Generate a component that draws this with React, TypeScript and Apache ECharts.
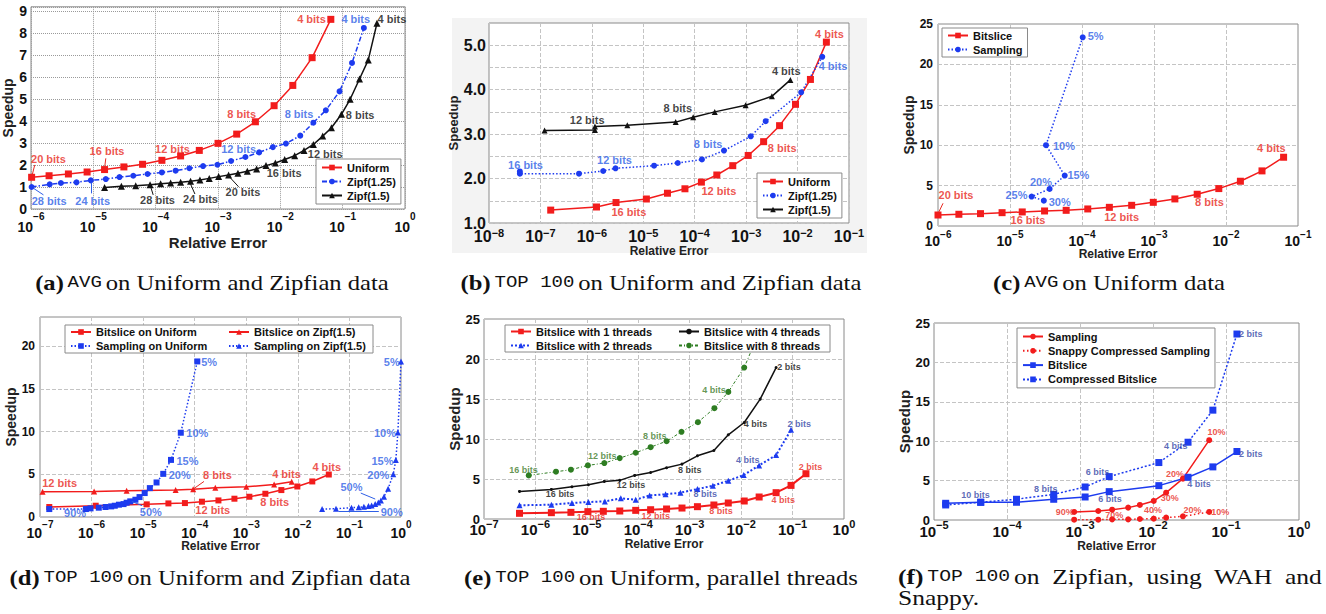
import React, { useEffect, useRef } from "react";
import * as echarts from "echarts";

const SANS = '"Liberation Sans", Arial, Helvetica, sans-serif';
const SERIF = '"Liberation Serif", "Times New Roman", serif';
const MONO = '"Liberation Mono", "DejaVu Sans Mono", monospace';

const RED = "#f21c1c";
const BLUE = "#1d3bef";
const BLACK = "#111111";
const GREEN = "#2e7d22";
const T_RED = "#e82a22";
const T_BLUE = "#2f5fe6";
const T_NAVY = "#3446a6";
const T_GREEN = "#3d7b2a";
const T_BLACK = "#111111";

// ---------- (a) AVG on Uniform and Zipfian data (x: log10 of relative error) ----------
const aUniformLogErr = [-5.99, -5.71, -5.4, -5.1, -4.82, -4.51, -4.21, -3.9, -3.6, -3.3, -3.0, -2.7, -2.4, -2.1, -1.8, -1.49, -1.19];
const aUniformSpeedup = [1.44, 1.51, 1.59, 1.68, 1.79, 1.91, 2.03, 2.21, 2.41, 2.66, 2.98, 3.4, 3.96, 4.69, 5.61, 6.87, 8.61];
const aZipf125LogErr = [-5.99, -5.7, -5.52, -5.27, -5.04, -4.8, -4.58, -4.36, -4.13, -3.9, -3.68, -3.46, -3.24, -3.01, -2.79, -2.56, -2.34, -2.12, -1.91, -1.68, -1.47, -1.27, -1.05, -0.85, -0.66];
const aZipf125Speedup = [1.0, 1.12, 1.18, 1.21, 1.3, 1.36, 1.45, 1.51, 1.59, 1.66, 1.74, 1.85, 1.95, 2.01, 2.18, 2.36, 2.57, 2.81, 2.97, 3.33, 3.92, 4.48, 5.34, 6.63, 8.22];
const aZipf15LogErr = [-4.82, -4.55, -4.32, -4.09, -3.92, -3.76, -3.6, -3.44, -3.29, -3.14, -2.99, -2.83, -2.68, -2.53, -2.38, -2.23, -2.08, -1.93, -1.77, -1.62, -1.47, -1.32, -1.18, -1.02, -0.88, -0.73, -0.59, -0.45];
const aZipf15Speedup = [0.98, 1.03, 1.06, 1.1, 1.15, 1.18, 1.21, 1.26, 1.32, 1.39, 1.47, 1.54, 1.62, 1.71, 1.82, 1.97, 2.09, 2.25, 2.42, 2.66, 2.93, 3.31, 3.69, 4.3, 4.98, 5.9, 6.76, 8.43];
const aUniformNotes: [number, number, string][] = [[-5.72, 2.25, "20 bits"], [-4.78, 2.65, "16 bits"], [-3.73, 2.72, "12 bits"], [-2.62, 4.3, "8 bits"], [-1.5, 8.62, "4 bits"]];
const aUniformArrows = [[-5.94, 2.0, -5.98, 1.55], [-4.8, 2.3, -4.82, 1.85]];
const aZipf125Notes: [number, number, string][] = [[-5.71, 0.38, "28 bits"], [-5.01, 0.38, "24 bits"], [-2.67, 2.74, "12 bits"], [-1.7, 4.3, "8 bits"], [-0.79, 8.62, "4 bits"]];
const aZipf125Arrows = [[-5.8, 0.64, -5.96, 0.94], [-5.04, 0.71, -5.04, 1.2]];
const aZipf15Notes: [number, number, string][] = [[-3.97, 0.39, "28 bits"], [-3.28, 0.44, "24 bits"], [-2.6, 0.76, "20 bits"], [-1.94, 1.65, "16 bits"], [-1.28, 2.5, "12 bits"], [-0.72, 4.27, "8 bits"], [-0.21, 8.62, "4 bits"]];
const aZipf15Arrows = [[-4.04, 0.64, -4.08, 1.01], [-3.37, 0.68, -3.44, 1.13], [-2.67, 1.01, -2.82, 1.47]];

// ---------- (b) TOP 100 on Uniform and Zipfian data ----------
const bUniformLogErr = [-6.8, -5.91, -5.53, -4.94, -4.53, -4.19, -3.87, -3.57, -3.26, -2.96, -2.66, -2.35, -2.04, -1.75, -1.44];
const bUniformSpeedup = [1.29, 1.36, 1.46, 1.54, 1.67, 1.77, 1.92, 2.08, 2.29, 2.52, 2.83, 3.19, 3.67, 4.23, 5.07];
const bZipf125LogErr = [-7.4, -7.4, -6.25, -5.78, -5.54, -4.79, -4.33, -3.86, -3.43, -2.91, -2.62, -1.93, -1.52];
const bZipf125Speedup = [2.16, 2.11, 2.11, 2.17, 2.23, 2.29, 2.35, 2.43, 2.63, 2.95, 3.29, 3.94, 4.74];
const bZipf15LogErr = [-6.92, -5.94, -5.94, -5.31, -4.37, -4.03, -3.61, -3.01, -2.5, -2.14];
const bZipf15Speedup = [3.08, 3.09, 3.17, 3.2, 3.27, 3.38, 3.5, 3.65, 3.85, 4.22];
const bUniformNotes: [number, number, string][] = [[-5.28, 1.24, "16 bits"], [-3.53, 1.72, "12 bits"], [-2.3, 2.68, "8 bits"], [-1.38, 5.26, "4 bits"]];
const bZipf125Notes: [number, number, string][] = [[-7.29, 2.31, "16 bits"], [-5.56, 2.41, "12 bits"], [-3.74, 2.77, "8 bits"], [-1.31, 4.54, "4 bits"]];
const bZipf15Notes: [number, number, string][] = [[-6.09, 3.32, "12 bits"], [-4.33, 3.58, "8 bits"], [-2.22, 4.43, "4 bits"]];

// ---------- (c) AVG on Uniform data ----------
const cBitsliceLogErr = [-6.0, -5.71, -5.41, -5.11, -4.83, -4.52, -4.22, -3.92, -3.62, -3.31, -3.01, -2.71, -2.4, -2.1, -1.8, -1.5, -1.2];
const cBitsliceSpeedup = [1.36, 1.45, 1.53, 1.65, 1.74, 1.86, 1.94, 2.11, 2.31, 2.56, 2.93, 3.35, 3.93, 4.63, 5.54, 6.82, 8.51];
const cSamplingLogErr = [-3.99, -4.5, -4.24, -4.45, -4.7, -4.53];
const cSamplingSpeedup = [23.35, 10.0, 6.24, 4.59, 3.64, 3.14];
const cBitsliceNotes: [number, number, string][] = [[-5.75, 3.84, "20 bits"], [-4.75, 0.74, "16 bits"], [-3.45, 1.16, "12 bits"], [-2.23, 2.93, "8 bits"], [-1.37, 9.71, "4 bits"]];
const cBitsliceArrows = [[-5.93, 2.81, -5.99, 1.7]];
const cSamplingNotes: [number, number, string][] = [[-3.81, 23.47, "5%"], [-4.25, 9.96, "10%"], [-4.05, 6.32, "15%"], [-4.57, 5.41, "20%"], [-4.91, 3.84, "25%"], [-4.31, 2.98, "30%"]];

// ---------- (d) TOP 100 on Uniform and Zipfian data ----------
const dBitUniLogErr = [-6.82, -5.92, -4.93, -4.51, -4.19, -3.86, -3.54, -3.23, -2.94, -2.63, -2.32, -2.01, -1.72, -1.4];
const dBitUniSpeedup = [1.17, 1.32, 1.48, 1.59, 1.63, 1.79, 1.94, 2.14, 2.37, 2.72, 3.15, 3.57, 4.16, 4.97];
const dBitZipfLogErr = [-6.95, -5.95, -5.32, -4.37, -4.03, -3.6, -3.0, -2.46, -2.12];
const dBitZipfSpeedup = [2.95, 2.99, 3.07, 3.15, 3.26, 3.42, 3.53, 3.81, 4.12];
const dSampUniLogErr = [-6.82, -6.11, -6.02, -5.86, -5.73, -5.62, -5.55, -5.47, -5.38, -5.32, -5.25, -5.15, -5.07, -4.97, -4.87, -4.74, -4.61, -4.46, -4.27, -3.95];
const dSampUniSpeedup = [0.93, 0.93, 1.01, 1.09, 1.17, 1.24, 1.32, 1.44, 1.51, 1.67, 1.83, 2.02, 2.33, 2.8, 3.38, 4.04, 5.05, 6.68, 9.86, 18.2];
const dSampZipfLogErr = [-1.53, -1.26, -0.96, -0.82, -0.72, -0.63, -0.57, -0.5, -0.44, -0.39, -0.33, -0.25, -0.15, -0.1, -0.06, 0.0];
const dSampZipfSpeedup = [0.93, 0.97, 1.09, 1.13, 1.2, 1.28, 1.36, 1.51, 1.71, 1.94, 2.37, 3.3, 5.01, 6.68, 9.9, 18.2];
const dBitZipfNotes: [number, number, string][] = [[-6.62, 3.96, "12 bits"], [-3.56, 4.97, "8 bits"], [-2.22, 5.01, "4 bits"]];
const dBitZipfArrows = [[-3.82, 4.16, -4.01, 3.35]];
const dBitUniNotes: [number, number, string][] = [[-3.65, 0.85, "12 bits"], [-2.45, 1.75, "8 bits"], [-1.44, 5.9, "4 bits"]];
const dSampUniNotes: [number, number, string][] = [[-6.32, 0.43, "90%"], [-4.85, 0.62, "50%"], [-4.29, 4.97, "20%"], [-4.14, 6.6, "15%"], [-3.95, 9.79, "10%"], [-3.72, 18.14, "5%"]];
const dSampUniArrows = [[-5.02, 1.32, -5.22, 1.83]];
const dSampZipfNotes: [number, number, string][] = [[-0.96, 3.5, "50%"], [-0.18, 0.62, "90%"], [-0.44, 4.97, "20%"], [-0.36, 6.6, "15%"], [-0.31, 9.79, "10%"], [-0.18, 18.14, "5%"]];
const dSampZipfArrows = [[-0.78, 2.8, -0.5, 2.1], [-0.43, 0.62, -1.21, 0.66]];

// ---------- (e) TOP 100 on Uniform, parallel threads ----------
const eT1LogErr = [-6.31, -5.69, -5.31, -4.98, -4.68, -4.36, -4.05, -3.76, -3.45, -3.15, -2.85, -2.53, -2.25, -1.94, -1.65, -1.32, -1.03, -0.74];
const eT1Speedup = [0.71, 0.79, 0.83, 0.92, 0.96, 1.0, 1.08, 1.16, 1.25, 1.37, 1.54, 1.75, 2.0, 2.25, 2.75, 3.29, 4.2, 5.66];
const eT2LogErr = [-6.31, -5.69, -5.29, -4.97, -4.65, -4.34, -4.05, -3.78, -3.47, -3.18, -2.85, -2.55, -2.25, -1.95, -1.65, -1.32, -1.03];
const eT2Speedup = [1.71, 1.79, 2.0, 2.12, 2.2, 2.58, 2.41, 2.95, 3.08, 3.29, 3.74, 4.16, 4.78, 5.49, 6.7, 7.99, 11.15];
const eT4LogErr = [-6.31, -5.69, -5.29, -4.97, -4.66, -4.36, -4.07, -3.76, -3.45, -3.15, -2.85, -2.53, -2.25, -1.94, -1.63, -1.32];
const eT4Speedup = [3.45, 3.7, 4.03, 4.28, 4.7, 4.83, 5.45, 5.82, 6.41, 6.86, 7.9, 8.57, 10.52, 12.06, 14.98, 18.93];
const eT8LogErr = [-6.13, -5.6, -5.31, -4.98, -4.66, -4.36, -4.05, -3.76, -3.45, -3.16, -2.84, -2.52, -2.25, -1.94, -1.63];
const eT8Speedup = [5.45, 5.91, 6.16, 6.7, 6.99, 7.61, 8.28, 8.98, 9.73, 10.9, 12.1, 13.85, 15.89, 18.93, 23.7];
const eT8Notes: [number, number, string][] = [[-6.23, 6.07, "16 bits"], [-4.7, 7.82, "12 bits"], [-3.68, 10.4, "8 bits"], [-2.53, 16.14, "4 bits"]];
const eT4Notes: [number, number, string][] = [[-5.52, 3.12, "16 bits"], [-4.14, 4.2, "12 bits"], [-3.0, 6.07, "8 bits"], [-1.72, 11.86, "4 bits"], [-1.07, 18.97, "2 bits"]];
const eT2Notes: [number, number, string][] = [[-2.7, 3.08, "8 bits"], [-1.87, 7.32, "4 bits"], [-0.87, 11.86, "2 bits"]];
const eT1Notes: [number, number, string][] = [[-4.92, 0.21, "16 bits"], [-3.66, 0.33, "12 bits"], [-2.39, 0.96, "8 bits"], [-1.18, 2.37, "4 bits"], [-0.65, 6.49, "2 bits"]];

// ---------- (f) TOP 100 on Zipfian, using WAH and Snappy ----------
const fSamplingLogErr = [-3.08, -2.75, -2.56, -2.34, -2.18, -1.99, -1.82, -1.59, -1.23];
const fSamplingSpeedup = [1.02, 1.14, 1.31, 1.57, 1.91, 2.42, 3.47, 5.25, 10.13];
const fSnappySpeedup = [0.04, 0.04, 0.08, 0.08, 0.13, 0.17, 0.3, 0.47, 1.02];
const fBitsliceLogErr = [-4.84, -4.36, -3.87, -3.36, -2.93, -2.6, -1.92, -1.52, -1.18, -0.85];
const fBitsliceSpeedup = [2.12, 2.25, 2.25, 2.63, 2.92, 3.6, 4.36, 5.42, 6.74, 8.69];
const fCompressedSpeedup = [1.91, 2.25, 2.63, 3.26, 4.19, 5.51, 7.29, 9.87, 13.94, 23.6];
const fCompNotes: [number, number, string][] = [[-4.43, 3.18, "10 bits"], [-3.47, 3.94, "8 bits"], [-2.76, 6.06, "6 bits"], [-1.69, 9.41, "4 bits"], [-0.66, 23.64, "2 bits"]];
const fBitNotes: [number, number, string][] = [[-2.59, 2.71, "6 bits"], [-1.37, 4.58, "4 bits"], [-0.66, 8.39, "2 bits"]];
const fSampNotes: [number, number, string][] = [[-3.21, 1.02, "90%"], [-2.53, 0.68, "70%"], [-2.0, 1.23, "40%"], [-1.77, 2.75, "30%"], [-1.7, 5.81, "20%"], [-1.13, 11.14, "10%"]];
const fSnappyNotes: [number, number, string][] = [[-1.46, 1.23, "20%"], [-1.08, 1.02, "10%"]];

// ---------- captions ----------
const captionTags = ["(a)", "(b)", "(c)", "(d)", "(e)", "(f)"];
const captionCodes = ["AVG", "TOP 100", "AVG", "TOP 100", "TOP 100", "TOP 100"];
const captionTexts = ["on Uniform and Zipfian data", "on Uniform and Zipfian data", "on Uniform data", "on Uniform and Zipfian data", "on Uniform, parallel threads", "on  Zipfian,  using  WAH  and"];
const captionTail = "Snappy.";

// ---------- layout ----------
const GRIDS = [
  { left: 31, top: 6.8, width: 374, height: 202.2 },
  { left: 489, top: 23, width: 360, height: 200 },
  { left: 938, top: 24, width: 360, height: 202 },
  { left: 40, top: 317, width: 361, height: 200 },
  { left: 484, top: 319, width: 360, height: 200 },
  { left: 934, top: 323, width: 365, height: 197 },
];

const AX = [
  { xMin: 1e-6, xMax: 1, yMin: 0, yMax: 9.18, yStep: 1, yEvery: 1, yDigits: 0, yFont: 14, yMargin: 4, xBase: 14, xSup: 10, xRaise: 11, xMargin: 2, xNameFont: 15, xNameGap: 25, yNameGap: 11, yNameFont: 14, gridType: "dotted", gridColor: "#9a9a9a" },
  { xMin: 1e-8, xMax: 1e-1, yMin: 1, yMax: 5.5, yStep: 0.5, yEvery: 1, yDigits: 1, yFont: 16, yMargin: 3, xBase: 16, xSup: 11, xRaise: 3.5, xMargin: 4, xNameFont: 12, xNameGap: 19, yNameGap: 22, yNameFont: 13, gridType: "dashed", gridColor: "#c4c4c4" },
  { xMin: 1e-6, xMax: 1e-1, yMin: 0, yMax: 25, yStep: 5, yEvery: 5, yDigits: 0, yFont: 12, yMargin: 5, xBase: 14, xSup: 10, xRaise: 6.5, xMargin: 3, xNameFont: 12, xNameGap: 16, yNameGap: 18, yNameFont: 14, gridType: "dashed", gridColor: "#c4c4c4" },
  { xMin: 1e-7, xMax: 1, yMin: 0, yMax: 23.4, yStep: 5, yEvery: 5, yDigits: 0, yFont: 12, yMargin: 5, xBase: 14, xSup: 10, xRaise: 8.5, xMargin: 2, xNameFont: 12, xNameGap: 22, yNameGap: 18, yNameFont: 14, gridType: "dashed", gridColor: "#c4c4c4" },
  { xMin: 1e-7, xMax: 1, yMin: 0, yMax: 25, yStep: 5, yEvery: 5, yDigits: 0, yFont: 13, yMargin: 4, xBase: 15, xSup: 11, xRaise: 6, xMargin: -1, xNameFont: 12, xNameGap: 18, yNameGap: 14, yNameFont: 15, gridType: "dashed", gridColor: "#c4c4c4" },
  { xMin: 1e-5, xMax: 1, yMin: 0, yMax: 25, yStep: 5, yEvery: 5, yDigits: 0, yFont: 13, yMargin: 4, xBase: 15, xSup: 11, xRaise: 7, xMargin: -1, xNameFont: 12, xNameGap: 17, yNameGap: 14, yNameFont: 15, gridType: "dashed", gridColor: "#c4c4c4" },
];

const pts = (lx: number[], ys: number[]) => lx.map((e, i) => [Math.pow(10, e), ys[i]]);

function lineSeries(name: string, gi: number, data: number[][], color: string, symbol: string, size: number, dash: any, width = 1.5) {
  return {
    type: "line", name, xAxisIndex: gi, yAxisIndex: gi, data,
    symbol, symbolSize: size, showAllSymbol: true,
    itemStyle: { color }, lineStyle: { color, width, type: dash },
    z: 3, silent: true, animation: false,
  };
}

function notesSeries(gi: number, fontSize: number, groups: { color: string; notes: [number, number, string][]; arrows?: number[][] }[]) {
  const data: any[] = [];
  const lines: any[] = [];
  groups.forEach((g) => {
    g.notes.forEach(([lx, y, t]) => data.push({ name: t, value: [Math.pow(10, lx), y], label: { color: g.color } }));
    (g.arrows || []).forEach(([x0, y0, x1, y1]) =>
      lines.push([
        { coord: [Math.pow(10, x0), y0], lineStyle: { color: g.color, width: 1, type: "solid" }, itemStyle: { color: g.color } },
        { coord: [Math.pow(10, x1), y1] },
      ])
    );
  });
  return {
    type: "scatter", name: "notes" + gi, xAxisIndex: gi, yAxisIndex: gi, data,
    symbolSize: 1, itemStyle: { color: "rgba(0,0,0,0)" }, silent: true, z: 5, animation: false,
    label: { show: true, position: "inside", formatter: "{b}", fontSize, fontWeight: "bold", fontFamily: SANS },
    markLine: { silent: true, animation: false, symbol: ["none", "arrow"], symbolSize: [0, 6], label: { show: false }, data: lines },
  };
}

function xAxis(i: number) {
  const p = AX[i];
  const L = 2 * p.xRaise + p.xSup;
  return {
    type: "log", logBase: 10, gridIndex: i, min: p.xMin, max: p.xMax,
    axisLine: { show: false }, axisTick: { show: false },
    splitLine: { show: true, lineStyle: { color: p.gridColor, type: p.gridType, width: 1 } },
    axisLabel: {
      margin: p.xMargin,
      formatter: (v: number) => {
        const n = Math.round(Math.log10(v));
        return `{b|10}{s|${n < 0 ? "\u2212" + -n : n}}`;
      },
      rich: {
        b: { fontFamily: SANS, fontWeight: "bold", fontSize: p.xBase, color: "#111", lineHeight: L },
        s: { fontFamily: SANS, fontWeight: "bold", fontSize: p.xSup, color: "#111", lineHeight: p.xSup, verticalAlign: "top" },
      },
    },
    name: "Relative Error", nameLocation: "middle", nameGap: p.xNameGap,
    nameTextStyle: { fontFamily: SANS, fontWeight: "bold", fontSize: p.xNameFont, color: "#222" },
  };
}

function yAxis(i: number) {
  const p = AX[i];
  return {
    type: "value", gridIndex: i, min: p.yMin, max: p.yMax, interval: p.yStep,
    axisLine: { show: false }, axisTick: { show: false },
    splitLine: { show: true, lineStyle: { color: p.gridColor, type: p.gridType, width: 1 } },
    axisLabel: {
      margin: p.yMargin, fontFamily: SANS, fontWeight: "bold", fontSize: p.yFont, color: "#111",
      formatter: (v: number) => {
        const k = Math.round(v / p.yEvery);
        return Math.abs(v - k * p.yEvery) < 1e-6 ? v.toFixed(p.yDigits) : "";
      },
    },
    name: "Speedup", nameLocation: "middle", nameGap: p.yNameGap, nameRotate: 90,
    nameTextStyle: { fontFamily: SANS, fontWeight: "bold", fontSize: p.yNameFont, color: "#222" },
  };
}

const strip = (n: string) => n.split("#")[0];

function legendBase(extra: any) {
  return {
    selectedMode: false, formatter: strip, itemWidth: 20, itemHeight: 7, itemGap: 3,
    borderColor: "#8a8a8a", borderWidth: 1, backgroundColor: "#fff", borderRadius: 0, z: 10,
    textStyle: { fontFamily: SANS, fontWeight: "bold", fontSize: 11, color: "#111" },
    ...extra,
  };
}

function buildOption() {
  const series: any[] = [
    // (a)
    lineSeries("Uniform#a", 0, pts(aUniformLogErr, aUniformSpeedup), RED, "rect", 7, "solid"),
    lineSeries("Zipf(1.25)#a", 0, pts(aZipf125LogErr, aZipf125Speedup), BLUE, "circle", 6, [5, 2, 1.5, 2]),
    lineSeries("Zipf(1.5)#a", 0, pts(aZipf15LogErr, aZipf15Speedup), BLACK, "triangle", 7, "solid"),
    notesSeries(0, 11, [
      { color: T_RED, notes: aUniformNotes, arrows: aUniformArrows },
      { color: T_BLUE, notes: aZipf125Notes, arrows: aZipf125Arrows },
      { color: T_BLACK, notes: aZipf15Notes, arrows: aZipf15Arrows },
    ]),
    // (b)
    lineSeries("Uniform#b", 1, pts(bUniformLogErr, bUniformSpeedup), RED, "rect", 7, "solid"),
    lineSeries("Zipf(1.25)#b", 1, pts(bZipf125LogErr, bZipf125Speedup), BLUE, "circle", 6, [1.5, 2]),
    lineSeries("Zipf(1.5)#b", 1, pts(bZipf15LogErr, bZipf15Speedup), BLACK, "triangle", 6, "solid"),
    notesSeries(1, 11, [
      { color: T_RED, notes: bUniformNotes },
      { color: T_BLUE, notes: bZipf125Notes },
      { color: T_BLACK, notes: bZipf15Notes },
    ]),
    // (c)
    lineSeries("Bitslice#c", 2, pts(cBitsliceLogErr, cBitsliceSpeedup), RED, "rect", 7, "solid"),
    lineSeries("Sampling#c", 2, pts(cSamplingLogErr, cSamplingSpeedup), BLUE, "circle", 6, [1.5, 2]),
    notesSeries(2, 11, [
      { color: T_RED, notes: cBitsliceNotes, arrows: cBitsliceArrows },
      { color: T_BLUE, notes: cSamplingNotes },
    ]),
    // (d)
    lineSeries("Bitslice on Uniform#d", 3, pts(dBitUniLogErr, dBitUniSpeedup), RED, "rect", 6, "solid"),
    lineSeries("Bitslice on Zipf(1.5)#d", 3, pts(dBitZipfLogErr, dBitZipfSpeedup), RED, "triangle", 6, "solid"),
    lineSeries("Sampling on Uniform#d", 3, pts(dSampUniLogErr, dSampUniSpeedup), BLUE, "rect", 6, [1.5, 2]),
    lineSeries("Sampling on Zipf(1.5)#d", 3, pts(dSampZipfLogErr, dSampZipfSpeedup), BLUE, "triangle", 6, [1.5, 2]),
    notesSeries(3, 11, [
      { color: T_RED, notes: dBitZipfNotes, arrows: dBitZipfArrows },
      { color: T_RED, notes: dBitUniNotes },
      { color: T_BLUE, notes: dSampUniNotes, arrows: dSampUniArrows },
      { color: T_BLUE, notes: dSampZipfNotes, arrows: dSampZipfArrows },
    ]),
    // (e)
    lineSeries("Bitslice with 1 threads#e", 4, pts(eT1LogErr, eT1Speedup), RED, "rect", 7, "solid", 2),
    lineSeries("Bitslice with 2 threads#e", 4, pts(eT2LogErr, eT2Speedup), BLUE, "triangle", 6, [2, 2], 2),
    lineSeries("Bitslice with 4 threads#e", 4, pts(eT4LogErr, eT4Speedup), BLACK, "circle", 3, "solid", 1.5),
    lineSeries("Bitslice with 8 threads#e", 4, pts(eT8LogErr, eT8Speedup), GREEN, "circle", 6, [3, 2, 1, 2], 1),
    notesSeries(4, 9, [
      { color: T_GREEN, notes: eT8Notes },
      { color: T_BLACK, notes: eT4Notes },
      { color: T_NAVY, notes: eT2Notes },
      { color: T_RED, notes: eT1Notes },
    ]),
    // (f)
    lineSeries("Sampling#f", 5, pts(fSamplingLogErr, fSamplingSpeedup), RED, "circle", 6, "solid"),
    lineSeries("Snappy Compressed Sampling#f", 5, pts(fSamplingLogErr, fSnappySpeedup), RED, "circle", 6, [1.5, 2.5]),
    lineSeries("Bitslice#f", 5, pts(fBitsliceLogErr, fBitsliceSpeedup), BLUE, "rect", 7, "solid"),
    lineSeries("Compressed Bitslice#f", 5, pts(fBitsliceLogErr, fCompressedSpeedup), BLUE, "rect", 7, [2, 2]),
    notesSeries(5, 9, [
      { color: T_NAVY, notes: fCompNotes },
      { color: T_NAVY, notes: fBitNotes },
      { color: T_RED, notes: fSampNotes },
      { color: T_RED, notes: fSnappyNotes },
    ]),
  ];

  const bare = { borderWidth: 0, backgroundColor: "transparent" };
  const legend = [
    legendBase({ orient: "vertical", left: 316, top: 159, padding: [3, 5], data: ["Uniform#a", "Zipf(1.25)#a", "Zipf(1.5)#a"] }),
    legendBase({ orient: "vertical", left: 757, top: 173, padding: [3, 5], data: ["Uniform#b", "Zipf(1.25)#b", "Zipf(1.5)#b"] }),
    legendBase({ orient: "vertical", left: 942, top: 28, padding: [2, 5], data: ["Bitslice#c", "Sampling#c"] }),
    legendBase({ ...bare, orient: "vertical", left: 65, top: 325, padding: [1.5, 5], data: ["Bitslice on Uniform#d", "Sampling on Uniform#d"] }),
    legendBase({ ...bare, orient: "vertical", left: 223, top: 325, padding: [1.5, 5], data: ["Bitslice on Zipf(1.5)#d", "Sampling on Zipf(1.5)#d"] }),
    legendBase({ ...bare, orient: "vertical", left: 505, top: 325, padding: [1, 5], data: ["Bitslice with 1 threads#e", "Bitslice with 2 threads#e"] }),
    legendBase({ ...bare, orient: "vertical", left: 673, top: 325, padding: [1, 5], data: ["Bitslice with 4 threads#e", "Bitslice with 8 threads#e"] }),
    legendBase({ orient: "vertical", left: 1017, top: 328, padding: [3, 5], itemGap: 3.3, data: ["Sampling#f", "Snappy Compressed Sampling#f", "Bitslice#f", "Compressed Bitslice#f"] }),
  ];

  const rich = {
    b: { fontFamily: SERIF, fontWeight: "bold", fontSize: 22, fill: "#111", color: "#111" },
    m: { fontFamily: MONO, fontSize: 17, fill: "#111", color: "#111" },
    r: { fontFamily: SERIF, fontSize: 22, fill: "#111", color: "#111" },
  };
  const capPos = [
    [212, 282, "center"], [661, 282, "center"], [1109, 282, "center"],
    [210, 577, "center"], [661, 577, "center"], [898, 577, "left"],
  ];
  const graphic: any[] = [
    { type: "rect", z: -10, silent: true, shape: { x: 452, y: 18, width: 415, height: 235 }, style: { fill: "#f3f3f3" } },
    { type: "rect", z: 8, silent: true, shape: { x: 65, y: 325, width: 308, height: 28 }, style: { fill: "#fff", stroke: "#8a8a8a", lineWidth: 1 } },
    { type: "rect", z: 8, silent: true, shape: { x: 505, y: 325, width: 325, height: 27 }, style: { fill: "#fff", stroke: "#8a8a8a", lineWidth: 1 } },
  ];
  captionTags.forEach((tag, i) => {
    const [x, y, align] = capPos[i] as [number, number, string];
    graphic.push({
      type: "text", x, y, scaleX: i === 5 ? 1.16 : 1.12, silent: true,
      style: {
        text: `{b|${tag}} {m|${captionCodes[i]}} {r|${captionTexts[i]}}`,
        rich, fill: "#111", align, verticalAlign: "middle", textAlign: align, textVerticalAlign: "middle",
      },
    });
  });
  graphic.push({
    type: "text", x: 898, y: 598, scaleX: 1.16, silent: true,
    style: { text: captionTail, fontFamily: SERIF, fontSize: 22, fill: "#111", align: "left", verticalAlign: "middle" },
  });

  return {
    animation: false,
    backgroundColor: "#ffffff",
    grid: GRIDS.map((g, i) => ({ ...g, show: true, borderColor: "#8a8a8a", borderWidth: 1, backgroundColor: i === 1 ? "#ffffff" : "transparent", containLabel: false })),
    xAxis: GRIDS.map((_, i) => xAxis(i)),
    yAxis: GRIDS.map((_, i) => yAxis(i)),
    legend,
    series,
    graphic,
  };
}

export default function App() {
  const ref = useRef<HTMLDivElement>(null);
  useEffect(() => {
    const chart = echarts.init(ref.current as HTMLDivElement, undefined, { renderer: "svg" });
    chart.setOption(buildOption() as any);
    return () => chart.dispose();
  }, []);
  return <div ref={ref} style={{ position: "absolute", left: 0, top: 0, width: 1326, height: 614, background: "#fff" }} />;
}
